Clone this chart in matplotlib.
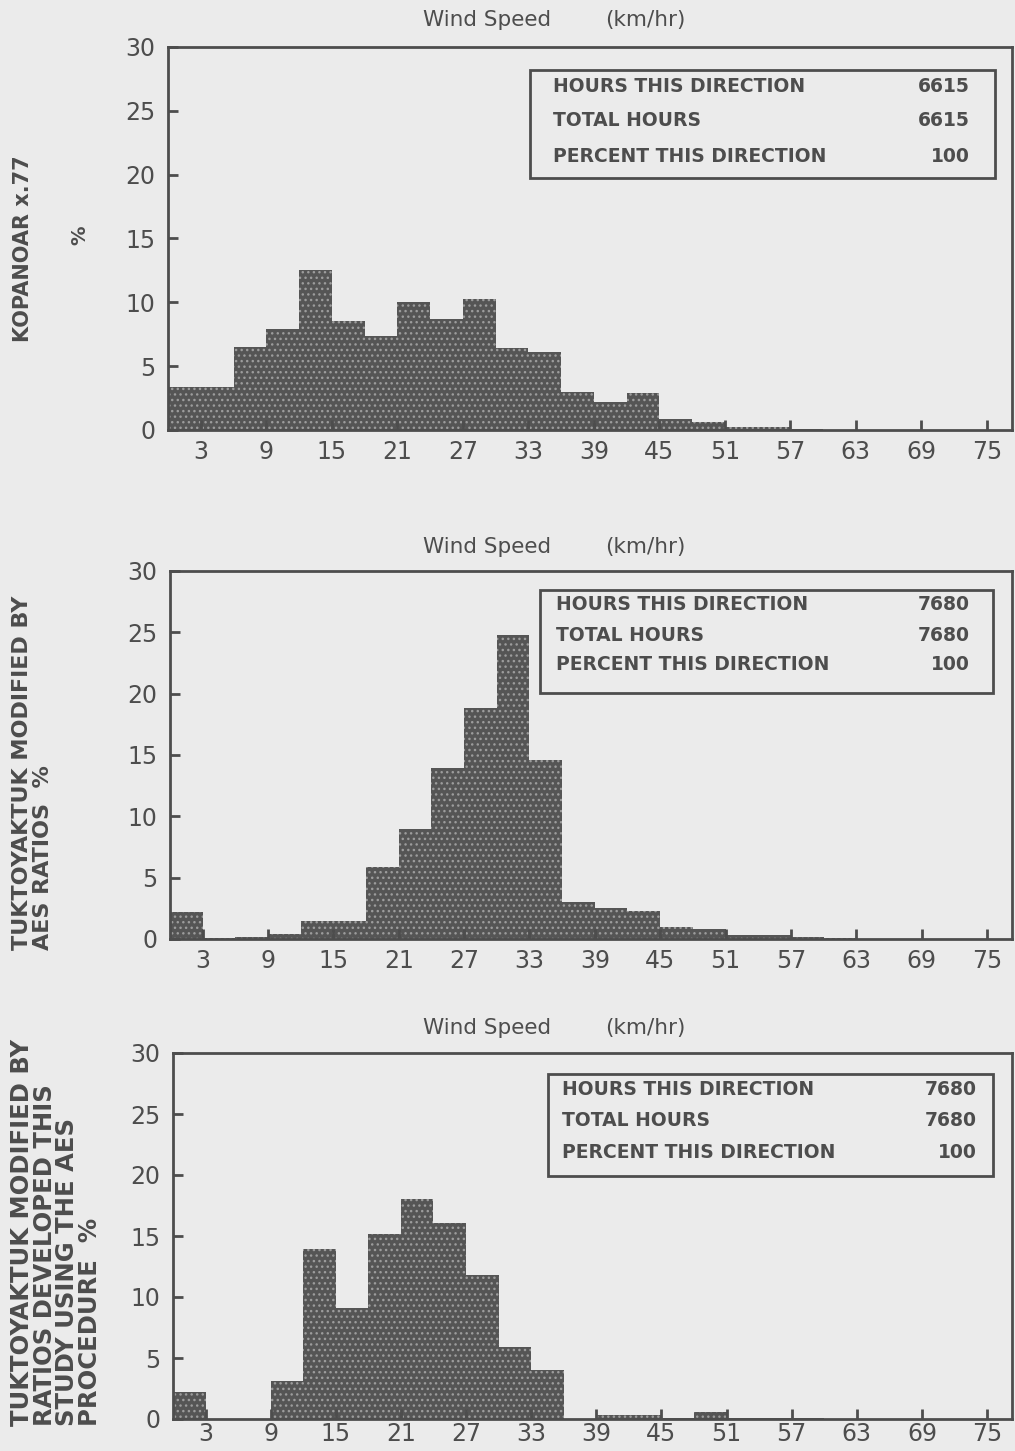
import matplotlib
matplotlib.use('Agg')
import matplotlib.pyplot as plt
from matplotlib.patches import Rectangle

# wind speed classes, 3 km/hr wide, 0 to 78
bin_edges = list(range(0, 79, 3))
tick_speeds = [3, 9, 15, 21, 27, 33, 39, 45, 51, 57, 63, 69, 75]

# percent of hours per class
kopanoar_pct = [3.4, 3.4, 6.5, 7.9, 12.5, 8.5, 7.4, 10.0, 8.7, 10.3, 6.4, 6.1, 3.0,
                2.2, 2.9, 0.9, 0.6, 0.2, 0.2, 0.1, 0, 0, 0, 0, 0, 0]
tuk_aes_pct = [2.2, 0.1, 0.2, 0.4, 1.5, 1.5, 5.9, 9.0, 13.9, 18.8, 24.8, 14.6, 3.0,
               2.5, 2.3, 1.0, 0.8, 0.3, 0.3, 0.2, 0.1, 0, 0, 0, 0, 0]
tuk_study_pct = [2.2, 0, 0, 3.1, 13.9, 9.1, 15.2, 18.0, 16.1, 11.8, 5.9, 4.0, 0,
                 0.3, 0.3, 0.1, 0.6, 0.1, 0.1, 0.1, 0, 0, 0, 0, 0, 0]

box_labels = ['HOURS THIS DIRECTION', 'TOTAL HOURS', 'PERCENT THIS DIRECTION']
kopanoar_box = ['6615', '6615', '100']
tuk_aes_box = ['7680', '7680', '100']
tuk_study_box = ['7680', '7680', '100']

W, H = 1015, 1451
BG = '#ebebeb'
INK = '#4d4d4d'

plt.rcParams['font.family'] = ['DejaVu Sans']
fig = plt.figure(figsize=(W / 100, H / 100), dpi=100, facecolor=BG)


def px_axes(left, top, right, bottom):
    return fig.add_axes([left / W, 1 - bottom / H, (right - left) / W, (bottom - top) / H])


def draw_panel(ax, values, box_vals, box_rect, rows, label_x, num_x, xpad=7):
    lefts = bin_edges[:-1]
    ax.bar(lefts, values, width=3, align='edge', color='#555555',
           edgecolor='#9c9c9c', linewidth=0, hatch='...')
    ax.set_facecolor(BG)
    ax.set_xlim(0, 77.3)
    ax.set_ylim(0, 30)
    ax.set_yticks(range(0, 31, 5))
    ax.set_xticks(tick_speeds)
    ax.tick_params(direction='in', length=7, width=2, colors=INK,
                   labelsize=17, labelcolor=INK)
    ax.tick_params(axis='x', pad=xpad)
    ax.tick_params(axis='y', pad=9)
    for s in ax.spines.values():
        s.set_color(INK)
        s.set_linewidth(2)
    x0, y0, x1, y1 = box_rect
    ax.add_patch(Rectangle((x0, y0), x1 - x0, y1 - y0, transform=ax.transAxes,
                           fill=False, edgecolor=INK, linewidth=2))
    for lab, val, ry in zip(box_labels, box_vals, rows):
        ax.text(label_x, ry, lab, transform=ax.transAxes, fontsize=13.5,
                fontweight='bold', color=INK, va='center', ha='left')
        ax.text(num_x, ry, val, transform=ax.transAxes, fontsize=13.5,
                fontweight='bold', color=INK, va='center', ha='right')


def title(y):
    fig.text(487 / W, 1 - y / H, 'Wind Speed', fontsize=15.5, color=INK,
             ha='center', va='center')
    fig.text(645 / W, 1 - y / H, '(km/hr)', fontsize=15.5, color=INK,
             ha='center', va='center')


ax1 = px_axes(168, 47, 1012, 430)
draw_panel(ax1, kopanoar_pct, kopanoar_box, (0.429, 0.658, 0.980, 0.940),
           [0.896, 0.807, 0.715], 0.456, 0.950)
title(20)

ax2 = px_axes(170, 571, 1012, 939)
draw_panel(ax2, tuk_aes_pct, tuk_aes_box, (0.439, 0.668, 0.977, 0.948),
           [0.908, 0.826, 0.745], 0.458, 0.950)
title(547)

ax3 = px_axes(173, 1053, 1012, 1419)
draw_panel(ax3, tuk_study_pct, tuk_study_box, (0.447, 0.663, 0.977, 0.943),
           [0.899, 0.815, 0.728], 0.464, 0.958, xpad=2)
title(1028)

# vertical axis labels
fig.text(13 / W, 1 - 342 / H, 'KOPANOAR x.77', rotation=90, fontsize=15,
         fontweight='bold', color=INK, ha='left', va='bottom')
fig.text(80 / W, 1 - 235 / H, '%', rotation=90, fontsize=14,
         fontweight='bold', color=INK, ha='center', va='center')

fig.text(12 / W, 1 - 950 / H, 'TUKTOYAKTUK MODIFIED BY\nAES RATIOS  %', rotation=90,
         fontsize=16, fontweight='bold', color=INK, ha='left', va='bottom',
         linespacing=1.05, multialignment='left')

fig.text(10 / W, 1 - 1426 / H,
         'TUKTOYAKTUK MODIFIED BY\nRATIOS DEVELOPED THIS\nSTUDY USING THE AES\nPROCEDURE  %',
         rotation=90, fontsize=17.5, fontweight='bold', color=INK, ha='left',
         va='bottom', linespacing=0.93, multialignment='left')

fig.savefig('out.png', dpi=100, facecolor=BG)
